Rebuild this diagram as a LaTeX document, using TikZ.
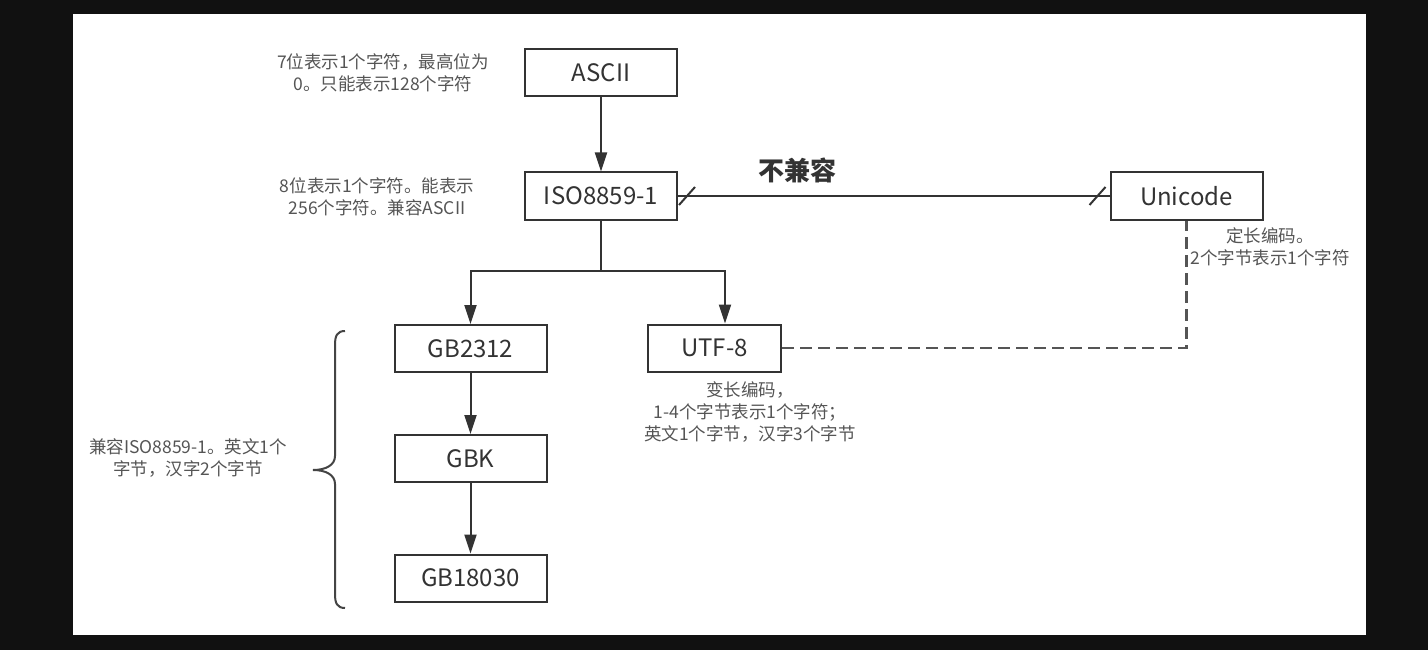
\documentclass[tikz,border=0pt]{standalone}
\usepackage{fontspec}
\setmainfont{Noto Sans CJK SC}
\usetikzlibrary{arrows.meta}
\definecolor{bgc}{HTML}{111111}
\definecolor{boxc}{HTML}{333333}
\definecolor{labc}{HTML}{333333}
\definecolor{notec}{HTML}{555555}
\definecolor{linec}{HTML}{333333}
\definecolor{dashc}{HTML}{555555}
\definecolor{bracec}{HTML}{444444}
\begin{document}
\begin{tikzpicture}[x=1pt,y=-1pt,
  box/.style={draw=boxc, line width=2pt, fill=white, minimum width=152pt, minimum height=47pt, inner sep=0pt, font=\fontsize{24}{28}\selectfont, text=labc},
  note/.style={font=\fontsize{17.5}{22}\selectfont, text=notec, align=center, inner sep=0pt},
  arr/.style={draw=linec, line width=2pt, -{Triangle[length=19pt,width=12pt]}},
  conn/.style={draw=linec, line width=2pt},
  dashconn/.style={draw=dashc, line width=2.5pt, dash pattern=on 12pt off 6pt},
  bracestyle/.style={draw=bracec, line width=2pt},
  title/.style={font=\fontsize{26}{30}\selectfont\bfseries, text=labc, inner sep=0pt}
]
\fill[bgc] (0,0) rectangle (1428,650);
\fill[white] (73,14) rectangle (1366,635);
\useasboundingbox (0,0) rectangle (1428,650);

% boxes
\node[box] (ascii) at (601,72.5) {ASCII};
\node[box] (iso) at (601,196) {ISO8859-1};
\node[box] (uni) at (1186.5,196) {Unicode};
\node[box] (gb2312) at (470.5,348.5) {GB2312};
\node[box] (gbk) at (470.5,458.5) {GBK};
\node[box] (gb18030) at (470.5,578) {GB18030};
\node[box, minimum width=133pt] (utf8) at (714.5,348) {UTF-8};

% notes
\node[note] (nascii) at (383,73) {7位表示1个字符，最高位为\\0。只能表示128个字符};
\node[note] (niso) at (377,197) {8位表示1个字符。能表示\\256个字符。兼容ASCII};
\node[note] (nuni) at (1270,247) {定长编码。\\2个字节表示1个字符};
\node[note] (nutf) at (750,412) {变长编码，\\1-4个字节表示1个字符；\\英文1个字节，汉字3个字节};
\node[note] (ngb) at (188,458) {兼容ISO8859-1。英文1个\\字节，汉字2个字节};
\node[title] (nc) at (797,170) {不兼容};

% connectors
\draw[arr] (ascii.south) -- (iso.north);
\coordinate (split) at (601,271);
\coordinate (uk) at (725,271);
\draw[conn] (iso.south) -- (split);
\draw[arr] (split) -| (gb2312.north);
\draw[arr] (split) -- (uk) -- (uk |- utf8.north);
\draw[arr] (gb2312.south) -- (gbk.north);
\draw[arr] (gbk.south) -- (gb18030.north);

\draw[conn] (iso.east) -- (uni.west);
\draw[conn] ([shift={(1,9)}]iso.east) -- ([shift={(17,-9)}]iso.east);
\draw[conn] ([shift={(-20,9)}]uni.west) -- ([shift={(-4,-9)}]uni.west);

\draw[dashconn] (utf8.east) -| (uni.south);

% brace
\draw[bracestyle] (345,331) .. controls (337,331) and (335,336) .. (335,345) -- (335,456)
  .. controls (335,465) and (326,470) .. (313,470)
  .. controls (326,470) and (335,475) .. (335,484) -- (335,594)
  .. controls (335,603) and (337,608) .. (345,608);
\end{tikzpicture}
\end{document}
